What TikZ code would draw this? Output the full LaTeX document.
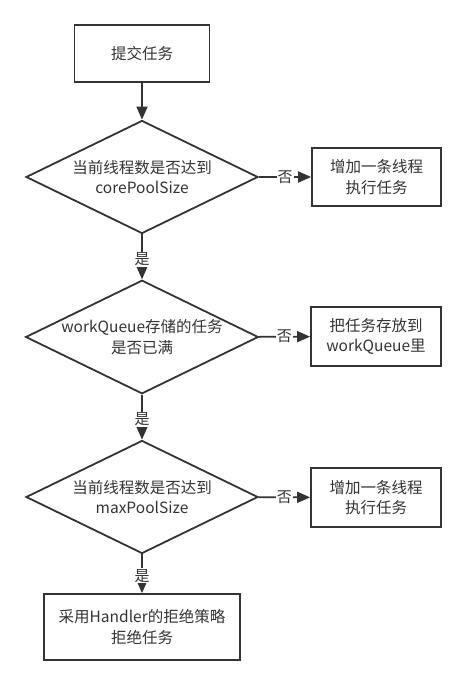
\documentclass[tikz,border=0pt]{standalone}
\usepackage{fontspec}
\setmainfont{Noto Sans CJK SC}
\usetikzlibrary{shapes.geometric,arrows.meta}
\definecolor{ink}{HTML}{333333}
\tikzset{
  box/.style={draw=ink, line width=1.8pt, text=ink, align=center, inner sep=0pt, font=\fontsize{15.5}{20.5}\selectfont},
  dia/.style={draw=ink, line width=1.8pt, text=ink, align=center, diamond, aspect=2.05, inner sep=0pt, minimum width=232pt, minimum height=113pt, font=\fontsize{15.5}{20.5}\selectfont},
  conn/.style={draw=ink, line width=1.8pt, -{Triangle[length=13pt,width=11pt]}},
  lab/.style={fill=white, text=ink, inner sep=1pt, font=\fontsize{15}{16}\selectfont}
}
\begin{document}
\begin{tikzpicture}[x=1pt,y=-1pt]
\useasboundingbox (0,0) rectangle (466,685);
\node[box, minimum width=135pt, minimum height=57pt] (start) at (142,53.5) {提交任务};
\node[dia] (d1) at (142,177) {当前线程数是否达到\\corePoolSize};
\node[box, minimum width=129pt, minimum height=58pt] (r1) at (376.5,177) {增加一条线程\\执行任务};
\node[dia] (d2) at (142,337) {workQueue存储的任务\\是否已满};
\node[box, minimum width=130pt, minimum height=59pt] (r2) at (376,336.5) {把任务存放到\\workQueue里};
\node[dia] (d3) at (142,497) {当前线程数是否达到\\maxPoolSize};
\node[box, minimum width=130pt, minimum height=59pt] (r3) at (376,497.5) {增加一条线程\\执行任务};
\node[box, minimum width=196pt, minimum height=66pt] (rej) at (142,627) {采用Handler的拒绝策略\\拒绝任务};
\draw[conn] (start) -- (d1);
\draw[conn] (d1) -- node[lab]{否} (r1);
\draw[conn] (d1) -- node[lab, pos=0.55]{是} (d2);
\draw[conn] (d2) -- node[lab]{否} (r2);
\draw[conn] (d2) -- node[lab, pos=0.55]{是} (d3);
\draw[conn] (d3) -- node[lab]{否} (r3);
\draw[conn] (d3) -- node[lab, pos=0.55]{是} (rej);
\end{tikzpicture}
\end{document}
